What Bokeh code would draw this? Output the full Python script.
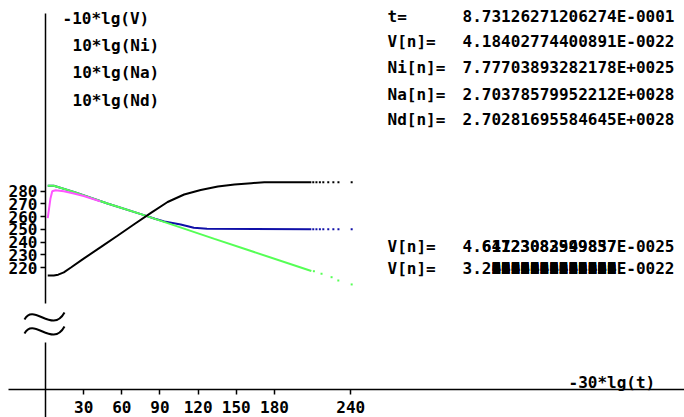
import numpy as np
from bokeh.plotting import figure
from bokeh.models import Range1d, LinearAxis, FixedTicker, Label
from bokeh.embed import file_html
from bokeh.resources import INLINE

W, H = 684, 417

# Screen layout: origin of the axes and pixels per unit (same on both axes)
X0_PX, K = 45.0, 1.272
Y280_PX = 190.7


def dx(px):
    return (px - X0_PX) / K


def dy(py):
    return 280 + (Y280_PX - py) / K


# ---- current state readout ----
t_now = 8.73126271206274E-0001
V_now = 4.18402774400891E-0022
Ni_now = 7.77703893282178E+0025
Na_now = 2.70378579952212E+0028
Nd_now = 2.70281695584645E+0028

state_names = ["t=", "V[n]=", "Ni[n]=", "Na[n]=", "Nd[n]="]
state_texts = ["8.73126271206274E-0001", "4.18402774400891E-0022",
               "7.77703893282178E+0025", "2.70378579952212E+0028",
               "2.70281695584645E+0028"]

legend_texts = ["-10*lg(V)", "10*lg(Ni)", "10*lg(Na)", "10*lg(Nd)"]

x_ticks = [30, 60, 90, 120, 150, 180, 240]
y_ticks = [220, 230, 240, 250, 260, 270, 280]

x_now = -30 * np.log10(t_now)

# ---- curves: x = -30*lg(t) ----
v_x = [6.5, 10, 14.4, 20, 30, 43.4, 56.6, 69.7, 82.9, 96, 109, 122, 135.5,
       148.6, 161.8, 172, 209]
v_y = [213.8, 214.4, 216.2, 220, 227, 236, 245, 254, 263, 271.5, 277.4, 281,
       283.7, 285.3, 286.3, 287, 287]

ni_x = [3.9, 5.3, 7.9, 14.4, 22.3, 30, 43]
ni_y = [274.3, 280.0, 280.8, 280.0, 278.2, 276.2, 272.0]

na_x = [6.5, 22.3, 48.7, 75, 132.8, 209]
na_y = [284.3, 279.5, 270.3, 262.0, 242.5, 217.3]

nd_x = [6.5, 22.3, 48.7, 75, 86, 93.4, 106.3, 116.6, 127, 209]
nd_y = [284.3, 279.5, 270.3, 262.0, 258.4, 256.2, 253.8, 251.2, 250.4, 250.0]

# sparse points at the end of the run
tail_x = [210.5, 213, 215.7, 218.4, 222.3, 226.3, 230.3, 240.7]
v_tail = [287, 287, 287, 287, 287, 287, 287, 287]
nd_tail = [250, 250, 250, 250, 250, 250, 250, 250]
na_tail_x = [211, 217, 224.9, 230.2, 240.7]
na_tail = [217.1, 215.1, 212.4, 209.8, 206.7]

# the curves begin at the current state
v_x = [x_now] + v_x
v_y = [-10 * np.log10(V_now)] + v_y
ni_x = [x_now] + ni_x
ni_y = [10 * np.log10(Ni_now)] + ni_y
na_x = [x_now] + na_x
na_y = [10 * np.log10(Na_now)] + na_y
nd_x = [x_now] + nd_x
nd_y = [10 * np.log10(Nd_now)] + nd_y

FONT = "DejaVu Sans Mono"
FS = "16px"

p = figure(width=W, height=H, x_range=Range1d(dx(0), dx(W)),
           y_range=Range1d(dy(H), dy(0)), x_axis_type=None, y_axis_type=None,
           toolbar_location=None, output_backend="svg", min_border=0,
           outline_line_color=None, background_fill_color="white",
           border_fill_color="white")

C_V, C_NI, C_NA, C_ND = "#000000", "#ff55ff", "#55ff55", "#1010a8"

p.line(nd_x, nd_y, line_color=C_ND, line_width=2)
p.line(na_x, na_y, line_color=C_NA, line_width=2)
p.line(ni_x, ni_y, line_color=C_NI, line_width=2)
p.line(v_x, v_y, line_color=C_V, line_width=2)

p.scatter(tail_x, nd_tail, marker="square", size=2, line_color=None, fill_color=C_ND)
p.scatter(na_tail_x, na_tail, marker="square", size=2, line_color=None, fill_color=C_NA)
p.scatter(tail_x, v_tail, marker="square", size=2, line_color=None, fill_color=C_V)

# ---- axes ----
yax = LinearAxis(fixed_location=0, bounds=(dy(303), dy(13)),
                 ticker=FixedTicker(ticks=y_ticks, minor_ticks=[]),
                 axis_line_color="black", axis_line_width=1.5,
                 major_tick_in=0, major_tick_out=5, minor_tick_out=0,
                 major_tick_line_width=1.5, major_label_standoff=3,
                 major_label_text_font=FONT, major_label_text_font_style="bold",
                 major_label_text_font_size=FS, major_label_text_color="black")
p.add_layout(yax, "left")

xax = LinearAxis(fixed_location=dy(389), bounds=(dx(8), dx(W)),
                 ticker=FixedTicker(ticks=x_ticks, minor_ticks=[]),
                 axis_line_color="black", axis_line_width=1.5,
                 major_tick_in=0, major_tick_out=5, minor_tick_out=0,
                 major_tick_line_width=1.5, major_label_standoff=6,
                 major_label_text_font=FONT, major_label_text_font_style="bold",
                 major_label_text_font_size=FS, major_label_text_color="black")
p.add_layout(xax, "below")

# lower piece of the broken vertical axis
p.segment(x0=[0], y0=[dy(342)], x1=[0], y1=[dy(H)], line_color="black", line_width=1.5)

# axis break marks
p.bezier(x0=[dx(24), dx(24)], y0=[dy(319), dy(333)],
         x1=[dx(64), dx(64)], y1=[dy(312), dy(326)],
         cx0=[dx(33), dx(33)], cy0=[dy(302), dy(316)],
         cx1=[dx(52), dx(52)], cy1=[dy(334), dy(348)],
         line_color="black", line_width=2)


def label(px, py, txt, align="left"):
    p.add_layout(Label(x=dx(px), y=dy(py), text=txt, text_font=FONT,
                       text_font_style="bold", text_font_size=FS,
                       text_color="black", text_baseline="middle",
                       text_align=align))


# legend column
legend_x = [62, 72, 72, 72]
legend_y = [18.3, 44.5, 72, 100.3]
for lx, ly, txt in zip(legend_x, legend_y, legend_texts):
    label(lx, ly, txt)

# state readout (values flush right)
VAL_RIGHT = 674
VAL_LEFT = 462
rows_y = [15.5, 41, 67, 93.5, 119]
for ry, name, txt in zip(rows_y, state_names, state_texts):
    label(387, ry, name)
    label(VAL_RIGHT, ry, txt, "right")

# overprinted readouts: shared head and exponent written once,
# the changing mantissa digits written over each other
label(387, 245.5, "V[n]=")
label(VAL_LEFT, 245.5, "4.")
for digits in ["64723083949837", "61123082599857"]:
    label(VAL_LEFT, 245.5, "\u00a0\u00a0" + digits)
label(VAL_RIGHT, 245.5, "E-0025", "right")

label(387, 267.5, "V[n]=")
label(VAL_LEFT, 267.5, "3.2")
for d in "0123456789":
    label(VAL_LEFT, 267.5, "\u00a0\u00a0\u00a0" + d * 13)
label(VAL_RIGHT, 267.5, "E-0022", "right")

label(568, 382, "-30*lg(t)")

open("out.html", "w").write(file_html(p, INLINE))
